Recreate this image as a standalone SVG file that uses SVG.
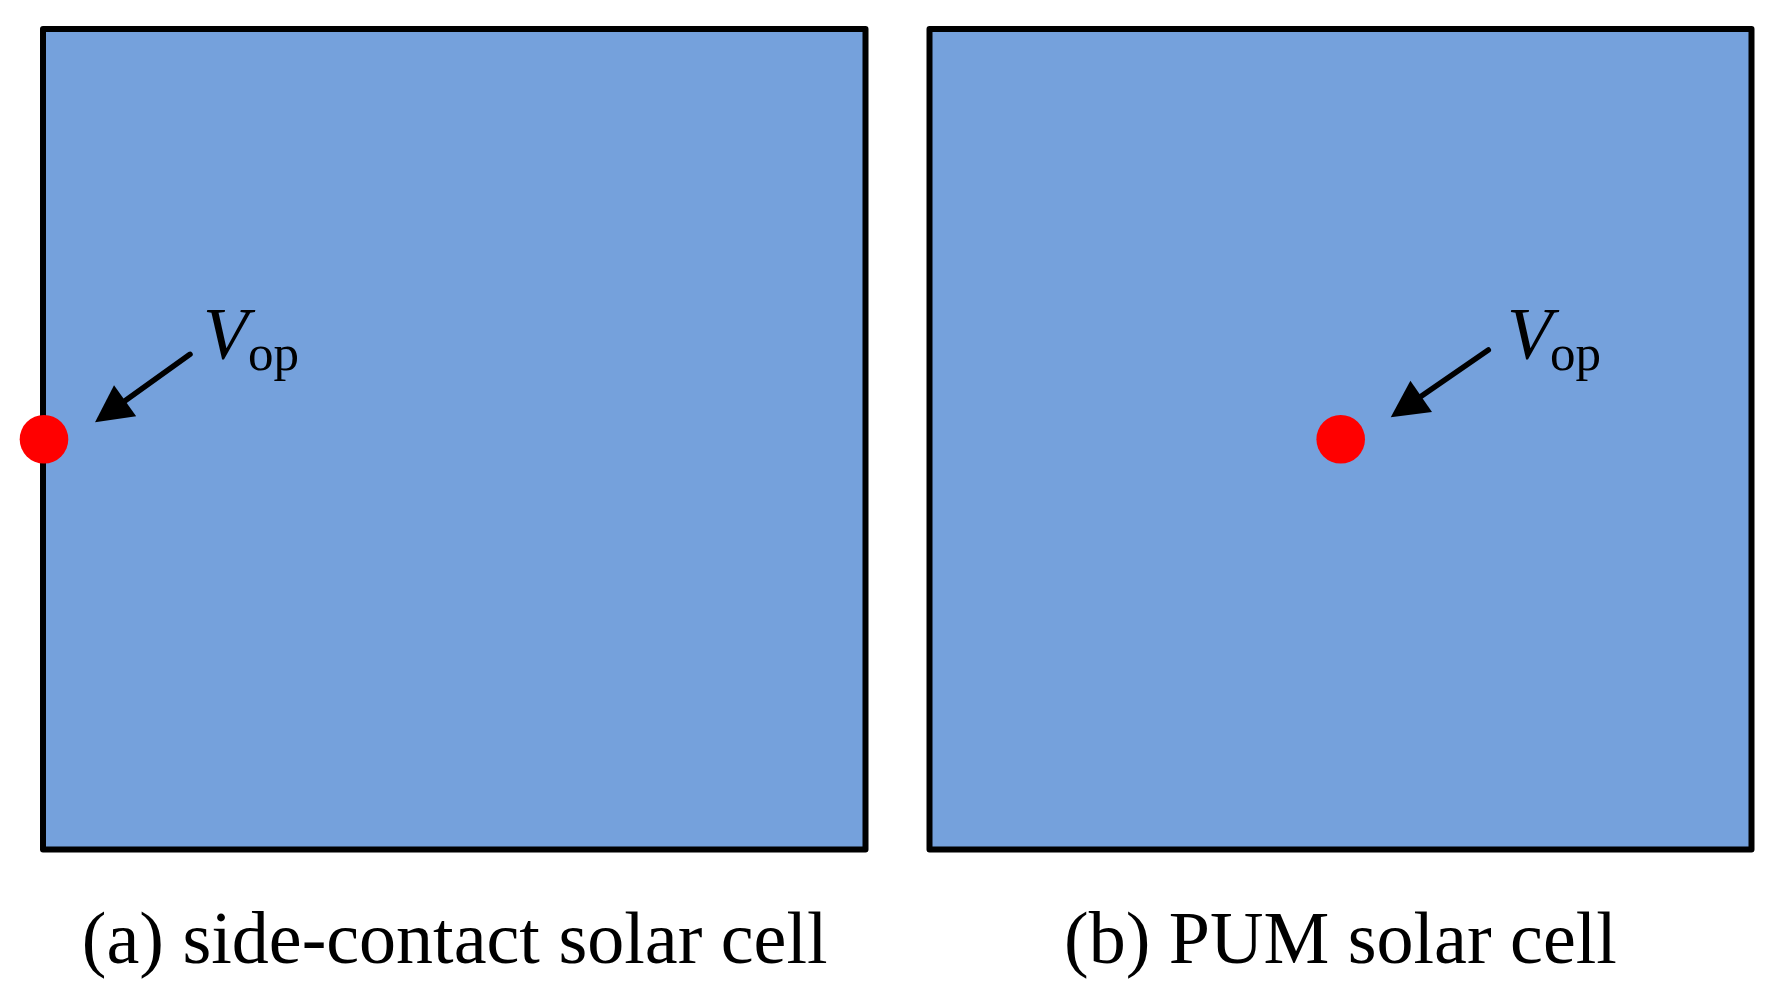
<svg xmlns="http://www.w3.org/2000/svg" width="1779" height="1000" viewBox="0 0 1779 1000">
  <style>
    .cell { fill: #75A1DC; stroke: #000000; stroke-width: 6; stroke-linejoin: round; }
    .dot { fill: #FF0000; }
    .arrow { stroke: #000000; stroke-width: 5.5; stroke-linecap: round; fill: none; }
    .v { font-family: "Liberation Serif", "Times New Roman", serif; font-style: italic; font-size: 74px; fill: #000; }
    .sub { font-family: "Liberation Serif", "Times New Roman", serif; font-size: 51px; fill: #000; }
    .cap { font-family: "Liberation Serif", "Times New Roman", serif; font-size: 74px; fill: #000; text-anchor: middle; }
  </style>
  <defs>
    <marker id="head" markerUnits="userSpaceOnUse" markerWidth="40" markerHeight="40" refX="0" refY="19" orient="auto" overflow="visible">
      <path d="M0,0 L37,19 L0,38 Z" fill="#000000"/>
    </marker>
  </defs>
  <rect width="1779" height="1000" fill="#FFFFFF"/>

  <g id="cell-a">
    <rect class="cell" x="43" y="29" width="822.5" height="820.5"/>
    <text class="v" x="203" y="359">V</text>
    <text class="sub" x="248" y="370">op</text>
  </g>
  <g id="cell-b">
    <rect class="cell" x="929.5" y="29" width="822" height="820.5"/>
    <text class="v" x="1507" y="359">V</text>
    <text class="sub" x="1550" y="370">op</text>
  </g>
  <g id="point-a">
    <circle class="dot" cx="44" cy="439.3" r="24.3"/>
  </g>
  <g id="point-b">
    <circle class="dot" cx="1340.7" cy="439.3" r="24.3"/>
  </g>

  <g id="connectors">
    <line class="arrow" x1="190" y1="354.3" x2="125.1" y2="400.8" marker-end="url(#head)"/>
    <line class="arrow" x1="1488.3" y1="350" x2="1421.2" y2="396.3" marker-end="url(#head)"/>
  </g>

  <g id="captions">
    <text class="cap" x="454.7" y="963">(a) side-contact solar cell</text>
    <text class="cap" x="1340.5" y="963">(b) PUM solar cell</text>
  </g>
</svg>
